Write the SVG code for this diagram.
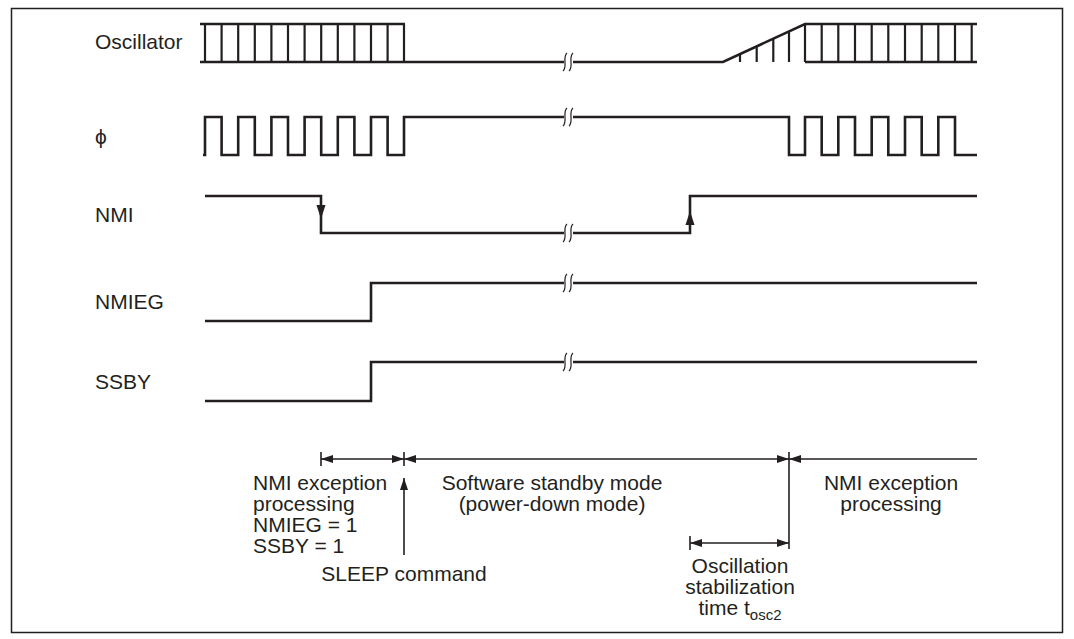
<svg xmlns="http://www.w3.org/2000/svg" width="1074" height="639" viewBox="0 0 1074 639">
<style>
.t{font-family:"Liberation Sans",Arial,Helvetica,sans-serif;font-size:21px;fill:#231f20}
.w{fill:none;stroke:#231f20;stroke-width:2.6;stroke-linejoin:miter;stroke-linecap:butt}
.v{fill:none;stroke:#231f20;stroke-width:2.2}
.a{fill:none;stroke:#231f20;stroke-width:1.6}
.br{fill:none;stroke:#231f20;stroke-width:1.2}
.gap{fill:#fff;stroke:none}
</style>
<defs>
<marker id="ah" markerUnits="userSpaceOnUse" markerWidth="13" markerHeight="9" refX="12" refY="4" orient="auto-start-reverse">
<path d="M0,0 L12,4 L0,8 z" fill="#231f20"/>
</marker>
<g id="brk">
<rect class="gap" x="-4" y="-10" width="9" height="20"/>
<path class="br" d="M-1,-9 C-6,-5 0,5 -5,9"/>
<path class="br" d="M5,-9 C0,-5 6,5 1,9"/>
</g>
</defs>
<rect x="11.5" y="8.5" width="1051" height="624" fill="#fff" stroke="#231f20" stroke-width="1.5"/>

<g id="oscillator">
<text class="t" x="95" y="49">Oscillator</text>
<path class="w" d="M200,62 H723 L805,24 H977 M805,62 H977 M200,24 H405"/>
<path class="v" d="M205,24V62 M221.6,24V62 M238.2,24V62 M254.8,24V62 M271.4,24V62 M288,24V62 M304.6,24V62 M321.2,24V62 M337.8,24V62 M354.4,24V62 M371,24V62 M387.6,24V62 M404,24V62"/>
<path class="v" d="M740,54.1V62 M756.7,46.4V62 M773.3,38.7V62 M789,31.4V62 M805,24V62 M821.7,24V62 M838.3,24V62 M855,24V62 M871.7,24V62 M888.3,24V62 M905,24V62 M921.7,24V62 M938.3,24V62 M955,24V62 M971.7,24V62"/>
<use href="#brk" x="568" y="62"/>
</g>

<g id="phi">
<text class="t" x="95" y="144">ϕ</text>
<path class="w" d="M203,155 H205 V117 H221.6 V155 H238.2 V117 H254.8 V155 H271.4 V117 H288 V155 H304.6 V117 H321.2 V155 H337.8 V117 H354.4 V155 H371 V117 H387.6 V155 H404 V117 H789 V155 H805 V117 H821.7 V155 H838.3 V117 H855 V155 H871.7 V117 H888.3 V155 H905 V117 H921.7 V155 H938.3 V117 H955 V155 H977"/>
<use href="#brk" x="568" y="117"/>
</g>

<g id="nmi">
<text class="t" x="95" y="222">NMI</text>
<path class="w" d="M205,196 H321 V233 H690 V196 H977"/>
<path d="M316.5,205 L325.5,205 L321,219 z" fill="#231f20"/>
<path d="M685.5,225 L694.5,225 L690,211 z" fill="#231f20"/>
<use href="#brk" x="568" y="233"/>
</g>

<g id="nmieg">
<text class="t" x="95" y="309">NMIEG</text>
<path class="w" d="M205,321 H371 V283 H977"/>
<use href="#brk" x="568" y="283"/>
</g>

<g id="ssby">
<text class="t" x="95" y="389">SSBY</text>
<path class="w" d="M205,401 H371 V362 H977"/>
<use href="#brk" x="568" y="362"/>
</g>

<g id="connectors">
<line class="a" x1="321" y1="459" x2="404" y2="459" marker-start="url(#ah)" marker-end="url(#ah)"/>
<line class="a" x1="404" y1="459" x2="789" y2="459" marker-start="url(#ah)" marker-end="url(#ah)"/>
<line class="a" x1="789" y1="459" x2="977" y2="459" marker-start="url(#ah)"/>
<line class="a" x1="321" y1="452" x2="321" y2="466"/>
<line class="a" x1="404" y1="452" x2="404" y2="466"/>
<line class="a" x1="789" y1="452" x2="789" y2="549"/>
<line class="a" x1="690" y1="543" x2="789" y2="543" marker-start="url(#ah)" marker-end="url(#ah)"/>
<line class="a" x1="690" y1="536" x2="690" y2="550"/>
<line class="a" x1="404" y1="555" x2="404" y2="478" marker-end="url(#ah)"/>
</g>

<g id="label-nmi-exc-1">
<text class="t" x="253" y="490">NMI exception</text>
<text class="t" x="253" y="511">processing</text>
<text class="t" x="253" y="532">NMIEG = 1</text>
<text class="t" x="253" y="553">SSBY = 1</text>
</g>
<g id="label-sleep">
<text class="t" x="404" y="581" text-anchor="middle">SLEEP command</text>
</g>
<g id="label-standby">
<text class="t" x="552" y="490" text-anchor="middle">Software standby mode</text>
<text class="t" x="552" y="511" text-anchor="middle">(power-down mode)</text>
</g>
<g id="label-nmi-exc-2">
<text class="t" x="891" y="490" text-anchor="middle">NMI exception</text>
<text class="t" x="891" y="511" text-anchor="middle">processing</text>
</g>
<g id="label-osc-stab">
<text class="t" x="740" y="573" text-anchor="middle">Oscillation</text>
<text class="t" x="740" y="594" text-anchor="middle">stabilization</text>
<text class="t" x="740" y="615" text-anchor="middle">time t<tspan font-size="15" dy="5">osc2</tspan></text>
</g>
</svg>
